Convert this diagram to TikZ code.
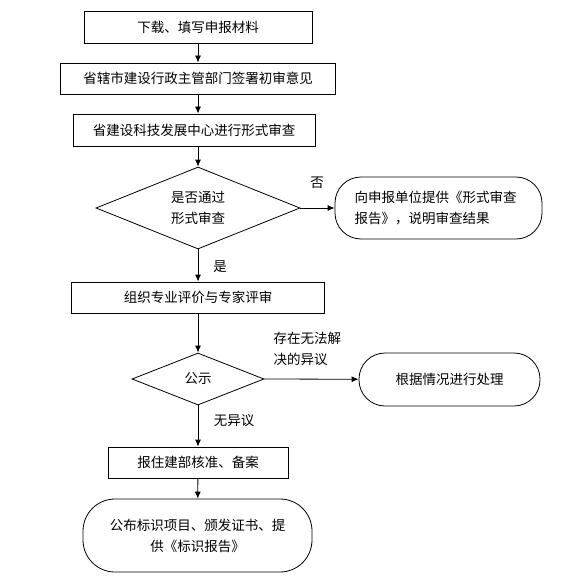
\documentclass[tikz,border=0pt]{standalone}
\usepackage{fontspec}
\newfontfamily\cjk{Noto Sans CJK SC}
\usetikzlibrary{shapes.geometric,arrows.meta}
\tikzset{
    stepbox/.style={draw,rectangle,inner sep=0pt},
    choice/.style={draw,diamond,inner sep=0pt,aspect=2.5},
    endbox/.style={draw,rectangle,inner sep=0pt,rounded corners=26pt},
    flow/.style={draw=black,line width=0.8pt,-{Latex[length=7pt,width=6pt]}}
}
\begin{document}
\begin{tikzpicture}[x=1pt,y=-1pt,line width=0.8pt,
    font=\cjk\fontsize{13.5}{21}\selectfont]
    \useasboundingbox (0,0) rectangle (588,583);
    \begin{scope}[every node/.style={stepbox}]
        \node[minimum width=228pt,minimum height=32pt] (load) at (198,27) {下载、填写申报材料};
        \node[minimum width=275pt,minimum height=31pt] (city) at (198,78.5) {省辖市建设行政主管部门签署初审意见};
        \node[minimum width=242pt,minimum height=32pt] (form) at (194,130) {省建设科技发展中心进行形式审查};
        \node[minimum width=253pt,minimum height=31pt] (expert) at (198,297.5) {组织专业评价与专家评审};
        \node[minimum width=180pt,minimum height=31pt] (report) at (198,462.5) {报住建部核准、备案};
    \end{scope}
    \begin{scope}[every node/.style={choice}]
        \node[minimum width=204pt,minimum height=82pt,align=center] (pass) at (198,208) {是否通过\\形式审查};
        \node[minimum width=132pt,minimum height=52pt] (notice) at (198,379) {公示};
    \end{scope}
    \begin{scope}[every node/.style={endbox}]
        \node[minimum width=207pt,minimum height=62pt,text width=168pt,align=left] (reject) at (438.5,208) {向申报单位提供《形式审查\\报告》，说明审查结果};
        \node[minimum width=181pt,minimum height=53pt] (handle) at (449.5,379.5) {根据情况进行处理};
        \node[minimum width=229pt,minimum height=73pt,rounded corners=32pt,align=center] (issue) at (197.5,535.5) {公布标识项目、颁发证书、提\\供《标识报告》};
    \end{scope}
    \node (no) at (317,183) {否};
    \node (yes) at (220,267) {是};
    \node[align=left,anchor=west] (objection) at (270,349) {存在无法解\\决的异议};
    \node (noobj) at (234,421) {无异议};
    \begin{scope}[every edge/.style={flow}]
        \path (load) edge (city);
        \path (city) edge (city |- form.north);
        \path (form.south -| pass.north) edge (pass.north);
        \path (pass.east) edge (reject);
        \path (pass.south) edge (expert);
        \path (expert.south -| notice.north) edge (notice.north);
        \path (notice.east) edge (handle);
        \path (notice.south) edge (report);
        \path (report) edge (issue);
    \end{scope}
\end{tikzpicture}
\end{document}
